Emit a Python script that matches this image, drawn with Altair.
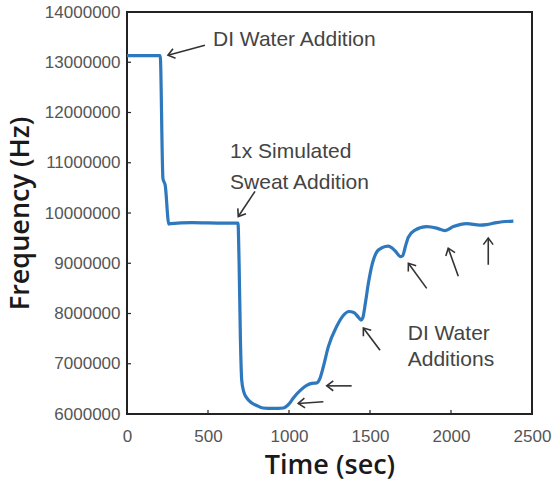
import math
import altair as alt
import pandas as pd

# ---- data ----
time_s = [0, 205, 222, 236, 258, 270, 400, 600, 685, 692, 700, 708, 720, 739, 770,
          800, 840, 900, 965, 1000, 1027, 1070, 1109, 1140, 1171, 1190, 1212, 1243,
          1294, 1335, 1370, 1400, 1430, 1445, 1456, 1472, 1490, 1515, 1541, 1575, 1613,
          1654, 1690, 1702, 1718, 1737, 1778, 1850, 1912, 1963, 2015, 2097, 2179, 2220,
          2282, 2385]
freq_m = [13.13, 13.13, 10.68, 10.55, 9.78, 9.79, 9.81, 9.80, 9.80, 9.0, 7.5, 6.68,
          6.45, 6.32, 6.22, 6.17, 6.12, 6.11, 6.12, 6.20, 6.32, 6.47, 6.57, 6.61,
          6.62, 6.70, 6.94, 7.34, 7.74, 7.96, 8.04, 8.02, 7.92, 7.87, 7.92, 8.22, 8.60,
          9.00, 9.22, 9.31, 9.34, 9.25, 9.13, 9.15, 9.33, 9.52, 9.66, 9.73, 9.70, 9.65,
          9.73, 9.79, 9.76, 9.77, 9.81, 9.84]

x_ticks = [0, 500, 1000, 1500, 2000, 2500]
y_ticks = [6000000, 7000000, 8000000, 9000000, 10000000, 11000000, 12000000,
           13000000, 14000000]
inner_x_ticks = [500, 1000, 1500, 2000]
inner_y_ticks = [7000000, 8000000, 9000000, 10000000, 11000000, 12000000, 13000000]

# arrows: tail -> head (time, frequency in MHz)
arrow_tail_t = [481, 790, 1212, 1387, 1562, 1850, 2045, 2230]
arrow_tail_f = [13.34, 10.43, 6.245, 6.56, 7.27, 8.50, 8.74, 8.97]
arrow_head_t = [253, 687, 1057, 1233, 1459, 1737, 1983, 2230]
arrow_head_f = [13.14, 9.93, 6.21, 6.56, 7.71, 9.00, 9.30, 9.50]

label_text = ["DI Water Addition", "1x Simulated", "Sweat Addition", "DI Water", "Additions"]
label_t = [531, 636, 636, 1733, 1733]
label_f = [13.44, 11.21, 10.60, 7.59, 7.07]

# ---- layout ----
W, H = 405, 402
X_DOM = [0, 2500]
Y_DOM = [6000000, 14000000]

df = pd.DataFrame({"t": time_s, "f": [v * 1e6 for v in freq_m]})

ang = []
for tt, tf, ht, hf in zip(arrow_tail_t, arrow_tail_f, arrow_head_t, arrow_head_f):
    dx = (ht - tt) * W / (X_DOM[1] - X_DOM[0])
    dy = -(hf - tf) * 1e6 * H / (Y_DOM[1] - Y_DOM[0])
    ang.append(math.degrees(math.atan2(dy, dx)) % 360)
arrows = pd.DataFrame({
    "tt": arrow_tail_t, "tf": [v * 1e6 for v in arrow_tail_f],
    "ht": arrow_head_t, "hf": [v * 1e6 for v in arrow_head_f],
    "ang": ang,
})
labels = pd.DataFrame({"t": label_t, "f": [v * 1e6 for v in label_f], "txt": label_text})

xs = alt.Scale(domain=X_DOM, nice=False, zero=False)
ys = alt.Scale(domain=Y_DOM, nice=False, zero=False)

AX_FONT = "Liberation Sans, Arial, sans-serif"
TITLE_FONT = "Open Sans, DejaVu Sans, sans-serif"
ANN_FONT = "Liberation Sans Narrow, Liberation Sans, sans-serif"

line = alt.Chart(df).mark_line(color="#2e78bd", strokeWidth=3.2,
                               interpolate="monotone").encode(
    x=alt.X("t:Q", scale=xs, axis=alt.Axis(
        values=x_ticks, format="d", title="Time (sec)", ticks=False, domain=False,
        grid=False, labelFont=AX_FONT, labelFontSize=17, labelColor="#555",
        labelPadding=14, titleFont=TITLE_FONT, titleFontSize=27, titleFontWeight=600,
        titleColor="#1a1a1a", titlePadding=8, labelFlush=False)),
    y=alt.Y("f:Q", scale=ys, axis=alt.Axis(
        values=y_ticks, format="d", title="Frequency (Hz)", ticks=False, domain=False,
        grid=False, labelFont=AX_FONT, labelFontSize=17, labelColor="#555",
        labelPadding=7, titleFont=TITLE_FONT, titleFontSize=27, titleFontWeight=600,
        titleColor="#1a1a1a", titlePadding=10, labelFlush=False)),
)

xt = alt.Chart(pd.DataFrame({"v": inner_x_ticks})).mark_rule(
    color="#222", strokeWidth=1.2).encode(
    x=alt.X("v:Q", scale=xs), y=alt.value(H), y2=alt.value(H - 4))
yt = alt.Chart(pd.DataFrame({"v": inner_y_ticks})).mark_rule(
    color="#222", strokeWidth=1.2).encode(
    y=alt.Y("v:Q", scale=ys), x=alt.value(0), x2=alt.value(4))

arrow_lines = alt.Chart(arrows).mark_rule(color="#333", strokeWidth=1.6).encode(
    x=alt.X("tt:Q", scale=xs), y=alt.Y("tf:Q", scale=ys),
    x2="ht:Q", y2="hf:Q")
arrow_heads = alt.Chart(arrows).mark_point(
    shape="M-1,-0.75L0,0L-1,0.75", filled=False, color="#333",
    strokeWidth=1.6, size=170, opacity=1).encode(
    x=alt.X("ht:Q", scale=xs), y=alt.Y("hf:Q", scale=ys),
    angle=alt.Angle("ang:Q", scale=None))

texts = alt.Chart(labels).mark_text(
    align="left", baseline="middle", font=ANN_FONT, fontSize=21,
    color="#444").encode(
    x=alt.X("t:Q", scale=xs), y=alt.Y("f:Q", scale=ys), text="txt:N")

chart = alt.layer(line, xt, yt, arrow_lines, arrow_heads, texts).properties(
    width=W, height=H,
    autosize=alt.AutoSizeParams(type="none"),
    padding={"left": 127, "top": 12, "right": 25, "bottom": 68},
    background="white",
).configure_view(stroke="#222", strokeWidth=2)

chart.save("out.html", embed_options={"renderer": "svg", "actions": False})
